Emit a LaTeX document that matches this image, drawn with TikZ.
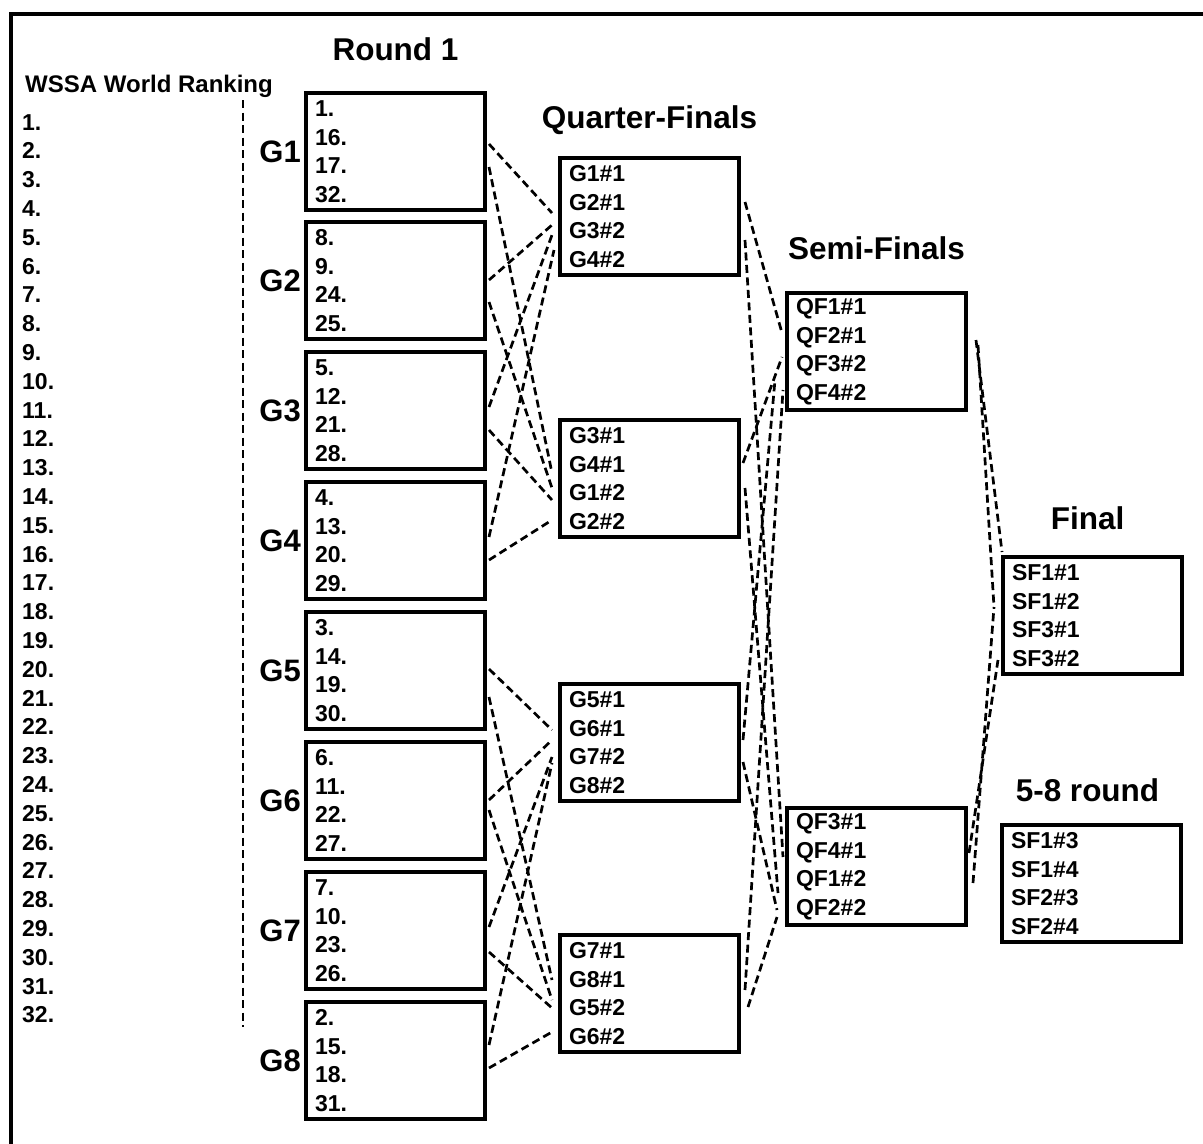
\documentclass[tikz,border=0pt]{standalone}
\usepackage{fontspec}
\setmainfont{Liberation Sans}
\usetikzlibrary{positioning}

\tikzset{
  grp/.style={draw, line width=3.5pt, anchor=north west, outer sep=0pt,
    minimum width=179pt, minimum height=117pt, text width=161pt,
    inner xsep=9pt, inner ysep=0pt, align=left,
    font=\bfseries\fontsize{23}{28.5}\selectfont},
  glab/.style={inner sep=0pt, font=\bfseries\fontsize{31}{31}\selectfont},
  head/.style={inner sep=0pt, text depth=0pt, font=\bfseries\fontsize{31.5}{32}\selectfont},
  rank/.style={anchor=base west, inner sep=0pt, font=\bfseries\fontsize{23}{23}\selectfont},
  conn/.style={line width=2.7pt, dash pattern=on 8pt off 4.5pt},
}

\begin{document}
\begin{tikzpicture}[x=1pt,y=-1pt]
\useasboundingbox (0,0) rectangle (1203,1144);

% --- Cornice ---
\draw[line width=4.5pt] (11,1150) -- (11,14) -- (1210,14);

% --- Classifica ---
\node[anchor=base west, inner sep=0pt, font=\bfseries\fontsize{24}{24}\selectfont] (wssa) at (25,92) {WSSA World Ranking};
\foreach \i in {1,...,32}
  \node[rank] (r\i) at (22,{130+28.8*(\i-1)}) {\i.};
\draw[line width=2.7pt, dash pattern=on 8pt off 4.5pt] (243,100) -- (243,1027);

% --- Round 1 ---
\node[grp] (g1) at (306,93)   {1.\\16.\\17.\\32.};
\node[grp] (g2) at (306,222)  {8.\\9.\\24.\\25.};
\node[grp] (g3) at (306,352)  {5.\\12.\\21.\\28.};
\node[grp] (g4) at (306,482)  {4.\\13.\\20.\\29.};
\node[grp] (g5) at (306,612)  {3.\\14.\\19.\\30.};
\node[grp] (g6) at (306,742)  {6.\\11.\\22.\\27.};
\node[grp] (g7) at (306,872)  {7.\\10.\\23.\\26.};
\node[grp] (g8) at (306,1002) {2.\\15.\\18.\\31.};
\node[glab, left=5pt of g1] (lg1) {G1};
\node[glab, left=5pt of g2] (lg2) {G2};
\node[glab, left=5pt of g3] (lg3) {G3};
\node[glab, left=5pt of g4] (lg4) {G4};
\node[glab, left=5pt of g5] (lg5) {G5};
\node[glab, left=5pt of g6] (lg6) {G6};
\node[glab, left=5pt of g7] (lg7) {G7};
\node[glab, left=5pt of g8] (lg8) {G8};
\node[head, above=32pt of g1] (hr1) {Round 1};

% --- Quarti ---
\node[grp] (qf1) at (560,158) {G1\#1\\G2\#1\\G3\#2\\G4\#2};
\node[grp] (qf2) at (560,420) {G3\#1\\G4\#1\\G1\#2\\G2\#2};
\node[grp] (qf3) at (560,684) {G5\#1\\G6\#1\\G7\#2\\G8\#2};
\node[grp] (qf4) at (560,935) {G7\#1\\G8\#1\\G5\#2\\G6\#2};
\node[head, above=29pt of qf1] (hqf) {Quarter-Finals};

% --- Semifinali ---
\node[grp] (sf1) at (787,293) {QF1\#1\\QF2\#1\\QF3\#2\\QF4\#2};
\node[grp] (sf2) at (787,808) {QF3\#1\\QF4\#1\\QF1\#2\\QF2\#2};
\node[head, above=33pt of sf1] (hsf) {Semi-Finals};

% --- Finale e 5-8 ---
\node[grp] (fin) at (1003,557) {SF1\#1\\SF1\#2\\SF3\#1\\SF3\#2};
\node[grp] (r58) at (1002,825) {SF1\#3\\SF1\#4\\SF2\#3\\SF2\#4};
\node[head, above=27pt of fin, xshift=-5pt] (hfin) {Final};
\node[head, above=23pt of r58, xshift=-4pt] (h58) {5-8 round};

% --- Round 1 -> Quarti ---
\draw[conn] ([shift={(4,51)}]g1.north east) -- ([shift={(-8,55)}]qf1.north west);
\draw[conn] ([shift={(4,74)}]g1.north east) -- ([shift={(-8,53)}]qf2.north west);
\draw[conn] ([shift={(4,58)}]g2.north east) -- ([shift={(-8,67)}]qf1.north west);
\draw[conn] ([shift={(4,80)}]g2.north east) -- ([shift={(-8,68)}]qf2.north west);
\draw[conn] ([shift={(4,55)}]g3.north east) -- ([shift={(-8,77)}]qf1.north west);
\draw[conn] ([shift={(4,78)}]g3.north east) -- ([shift={(-8,80)}]qf2.north west);
\draw[conn] ([shift={(4,55)}]g4.north east) -- ([shift={(-6,92)}]qf1.north west);
\draw[conn] ([shift={(4,78)}]g4.north east) -- ([shift={(-8,100)}]qf2.north west);
\draw[conn] ([shift={(4,57)}]g5.north east) -- ([shift={(-8,46)}]qf3.north west);
\draw[conn] ([shift={(4,85)}]g5.north east) -- ([shift={(-8,45)}]qf4.north west);
\draw[conn] ([shift={(4,58)}]g6.north east) -- ([shift={(-8,56)}]qf3.north west);
\draw[conn] ([shift={(4,68)}]g6.north east) -- ([shift={(-8,65)}]qf4.north west);
\draw[conn] ([shift={(4,55)}]g7.north east) -- ([shift={(-8,73)}]qf3.north west);
\draw[conn] ([shift={(4,80)}]g7.north east) -- ([shift={(-8,73)}]qf4.north west);
\draw[conn] ([shift={(4,43)}]g8.north east) -- ([shift={(-8,79)}]qf3.north west);
\draw[conn] ([shift={(4,66)}]g8.north east) -- ([shift={(-8,97)}]qf4.north west);

% --- Quarti -> Semifinali ---
\draw[conn] ([shift={(6,44)}]qf1.north east) -- ([shift={(-5,40)}]sf1.north west);
\draw[conn] ([shift={(6,82)}]qf1.north east) -- ([shift={(-4,49)}]sf2.north west);
\draw[conn] ([shift={(4,43)}]qf2.north east) -- ([shift={(-5,64)}]sf1.north west);
\draw[conn] ([shift={(6,68)}]qf2.north east) -- ([shift={(-9,85)}]sf2.north west);
\draw[conn] ([shift={(4,56)}]qf3.north east) -- ([shift={(-12,87)}]sf1.north west);
\draw[conn] ([shift={(4,78)}]qf3.north east) -- ([shift={(-10,102)}]sf2.north west);
\draw[conn] ([shift={(6,55)}]qf4.north east) -- ([shift={(-4,97)}]sf1.north west);
\draw[conn] ([shift={(9,72)}]qf4.north east) -- ([shift={(-10,109)}]sf2.north west);

% --- Semifinali -> Finale ---
\draw[conn] ([shift={(10,47)}]sf1.north east) -- ([shift={(-1,-5)}]fin.north west);
\draw[conn] ([shift={(12,52)}]sf1.north east) -- ([shift={(-9,50)}]fin.north west);
\draw[conn] ([shift={(7,75)}]sf2.north east) -- ([shift={(-9,50)}]fin.north west);
\draw[conn] ([shift={(3,45)}]sf2.north east) -- ([shift={(-5,103)}]fin.north west);

\end{tikzpicture}
\end{document}
